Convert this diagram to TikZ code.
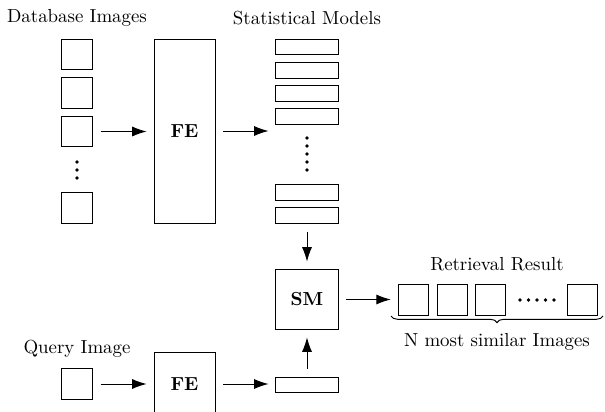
\documentclass[tikz,border=0pt]{standalone}
\usepackage{tikz}
\usetikzlibrary{arrows.meta, decorations.pathreplacing}

\begin{document}
\begin{tikzpicture}[x=0.53pt, y=-0.53pt, line width=0.5pt,
    imgbox/.style={draw, inner sep=0pt, minimum width=16.2pt, minimum height=16pt},
    febox/.style={draw, inner sep=0pt, minimum width=32.3pt, font=\bfseries},
    modelbox/.style={draw, inner sep=0pt, minimum width=32.9pt, minimum height=8.3pt},
    flow/.style={-{Latex[length=7.6pt,width=5.3pt]}, shorten <=4.2pt, shorten >=3.7pt}]
    \useasboundingbox (0,0) rectangle (605,412);
    \clip (0,0) rectangle (605,412);
    % database images
    \node (dblabel) at (77,18) {Database Images};
    \foreach \i/\y in {1/54.5, 2/93, 3/131.5, 4/208} {
      \node[imgbox] (db\i) at (77,\y) {};
    }
    \foreach \y in {162,170,178} {
      \fill (77,\y) circle (1pt);
    }
    % feature extraction
    \node[febox, minimum height=97.5pt] (fe1) at (184.5,131) {FE};
    % statistical models
    \node (smlabel) at (307,18) {Statistical Models};
    \foreach \i/\y in {1/47, 2/70.5, 3/93.5, 4/116.5, 5/192.5, 6/215.5} {
      \node[modelbox] (m\i) at (307,\y) {};
    }
    \foreach \y in {138,146,154,162,170} {
      \fill (307,\y) circle (1pt);
    }
    % similarity measure
    \node[draw, inner sep=0pt, minimum width=32.9pt, minimum height=32.3pt,
          font=\bfseries] (sm) at (307,299.5) {SM};
    % retrieval result
    \node (rrlabel) at (497,264) {Retrieval Result};
    \foreach \i/\x in {1/413.5, 2/452.5, 3/490.5, 4/582.5} {
      \node[imgbox] (r\i) at (\x,300) {};
    }
    \foreach \x in {520,528.5,537,545.5,554} {
      \fill (\x,300) circle (1pt);
    }
    \draw[decorate, decoration={brace, mirror, amplitude=3.5pt}]
      (391,316) -- (603,316);
    \node (nlabel) at (497,342) {N most similar Images};
    % query
    \node (qlabel) at (77,349) {Query Image};
    \node[imgbox] (qimg) at (77,384) {};
    \node[febox, minimum height=33pt] (fe2) at (184.5,384) {FE};
    \node[modelbox] (qm) at (307,385) {};
    % arrows
    \draw[flow] (db3.east) -- (db3.east -| fe1.west);
    \draw[flow] (fe1.east) -- (fe1.east -| m1.west);
    \draw[flow] (m6) -- (sm);
    \draw[flow] (sm.east) -- (sm.east -| r1.west);
    \draw[flow] (qimg) -- (fe2);
    \draw[flow] (fe2.east |- qimg) -- (qm.west |- qimg);
    \draw[flow] (qm) -- (sm);
  \end{tikzpicture}
\end{document}
